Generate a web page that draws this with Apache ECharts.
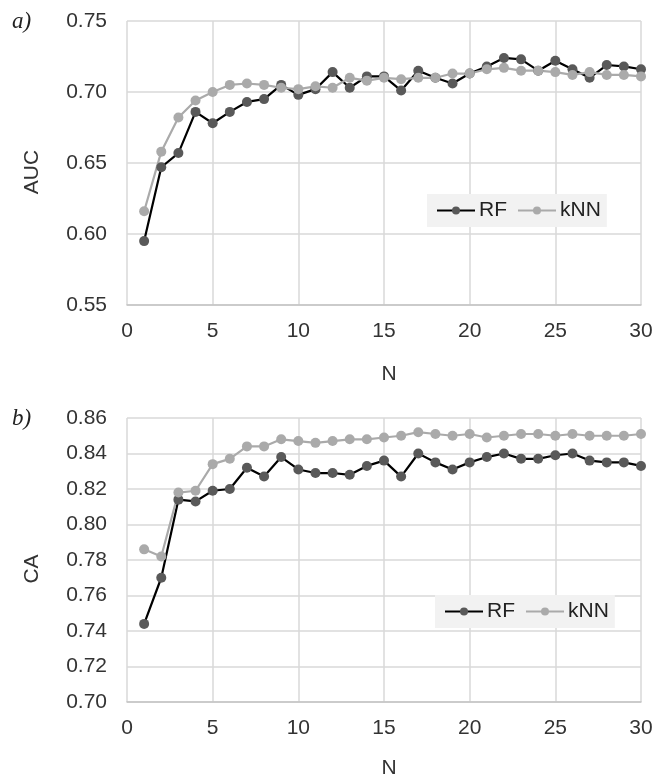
<!DOCTYPE html>
<html>
<head>
<meta charset="utf-8">
<script src="https://cdn.jsdelivr.net/npm/echarts@6/dist/echarts.min.js"></script>
<style>html,body{margin:0;padding:0;background:#fff;}#c{width:668px;height:780px;}</style>
</head>
<body>
<div id="c"></div>
<script>
const nValues = [1,2,3,4,5,6,7,8,9,10,11,12,13,14,15,16,17,18,19,20,21,22,23,24,25,26,27,28,29,30];
const aucRF  = [0.595,0.647,0.657,0.686,0.678,0.686,0.693,0.695,0.705,0.698,0.702,0.714,0.703,0.711,0.711,0.701,0.715,0.710,0.706,0.713,0.718,0.724,0.723,0.715,0.722,0.716,0.710,0.719,0.718,0.716];
const aucKNN = [0.616,0.658,0.682,0.694,0.700,0.705,0.706,0.705,0.703,0.702,0.704,0.703,0.710,0.708,0.710,0.709,0.710,0.710,0.713,0.713,0.716,0.717,0.715,0.715,0.714,0.712,0.714,0.712,0.712,0.711];
const caRF   = [0.744,0.770,0.814,0.813,0.819,0.820,0.832,0.827,0.838,0.831,0.829,0.829,0.828,0.833,0.836,0.827,0.840,0.835,0.831,0.835,0.838,0.840,0.837,0.837,0.839,0.840,0.836,0.835,0.835,0.833];
const caKNN  = [0.786,0.782,0.818,0.819,0.834,0.837,0.844,0.844,0.848,0.847,0.846,0.847,0.848,0.848,0.849,0.850,0.852,0.851,0.850,0.851,0.849,0.850,0.851,0.851,0.850,0.851,0.850,0.850,0.850,0.851];
const seriesNames = ['RF','kNN'];
const panelLabels = ['a)','b)'];

const pair = (ys) => nValues.map((x,i)=>[x, ys[i]]);
const chart = echarts.init(document.getElementById('c'));
const FONT = 'Liberation Sans, Arial, sans-serif';
const labelColor = '#333333';
const gridColor = '#d9d9d9';

function xAx(gridIndex, gap){
  return {gridIndex, type:'value', min:0, max:30, interval:5, name:'N', nameLocation:'middle', nameGap:gap,
    nameTextStyle:{fontSize:21, fontFamily:FONT, color:labelColor, padding:[0,0,0,10]},
    axisLine:{show:true, lineStyle:{color:'#c4c4c4', width:1.5}}, axisTick:{show:false},
    axisLabel:{fontSize:21, fontFamily:FONT, color:labelColor, margin:16},
    splitLine:{show:true, lineStyle:{color:gridColor, width:1.5}}};
}
function yAx(gridIndex, min, max, interval, name){
  return {gridIndex, type:'value', min, max, interval, name, nameLocation:'middle', nameGap:84,
    nameTextStyle:{fontSize:21, fontFamily:FONT, color:labelColor, padding:[0,18,0,0]},
    axisLine:{show:false}, axisTick:{show:false},
    axisLabel:{fontSize:21, fontFamily:FONT, color:labelColor, margin:20, formatter:v=>v.toFixed(2)},
    splitLine:{show:true, lineStyle:{color:gridColor, width:1.5}}};
}
function ser(name, idx, data, isRF){
  return {name, type:'line', xAxisIndex:idx, yAxisIndex:idx, data, symbol:'circle', symbolSize:10,
    lineStyle:{color: isRF ? '#000000' : '#aaaaaa', width:2.2},
    itemStyle:{color: isRF ? '#595959' : '#aaaaaa'},
    emphasis:{disabled:true}, animation:false};
}
const legendBase = {data:seriesNames, backgroundColor:'#f2f2f2', padding:[6,6,6,9], itemWidth:38, itemHeight:10, itemGap:10,
  textStyle:{fontSize:21, fontFamily:FONT, color:'#222', padding:[0,0,0,-1]}};

chart.setOption({
  animation:false,
  grid:[{left:127, top:21, width:514, height:284}, {left:127, top:418, width:514, height:285}],
  xAxis:[xAx(0,59), xAx(1,56)],
  yAxis:[yAx(0,0.55,0.75,0.05,'AUC'), yAx(1,0.70,0.86,0.02,'CA')],
  legend:[Object.assign({left:427, top:194}, legendBase), Object.assign({left:435, top:595}, legendBase)],
  series:[ser('RF',0,pair(aucRF),true), ser('kNN',0,pair(aucKNN),false), ser('RF',1,pair(caRF),true), ser('kNN',1,pair(caKNN),false)],
  graphic:[
    {type:'text', left:12, top:10, style:{text:panelLabels[0], font:'italic 23px "Liberation Serif", "Times New Roman", serif', fill:'#222'}},
    {type:'text', left:12, top:407, style:{text:panelLabels[1], font:'italic 23px "Liberation Serif", "Times New Roman", serif', fill:'#222'}}
  ]
});
</script>
</body>
</html>
